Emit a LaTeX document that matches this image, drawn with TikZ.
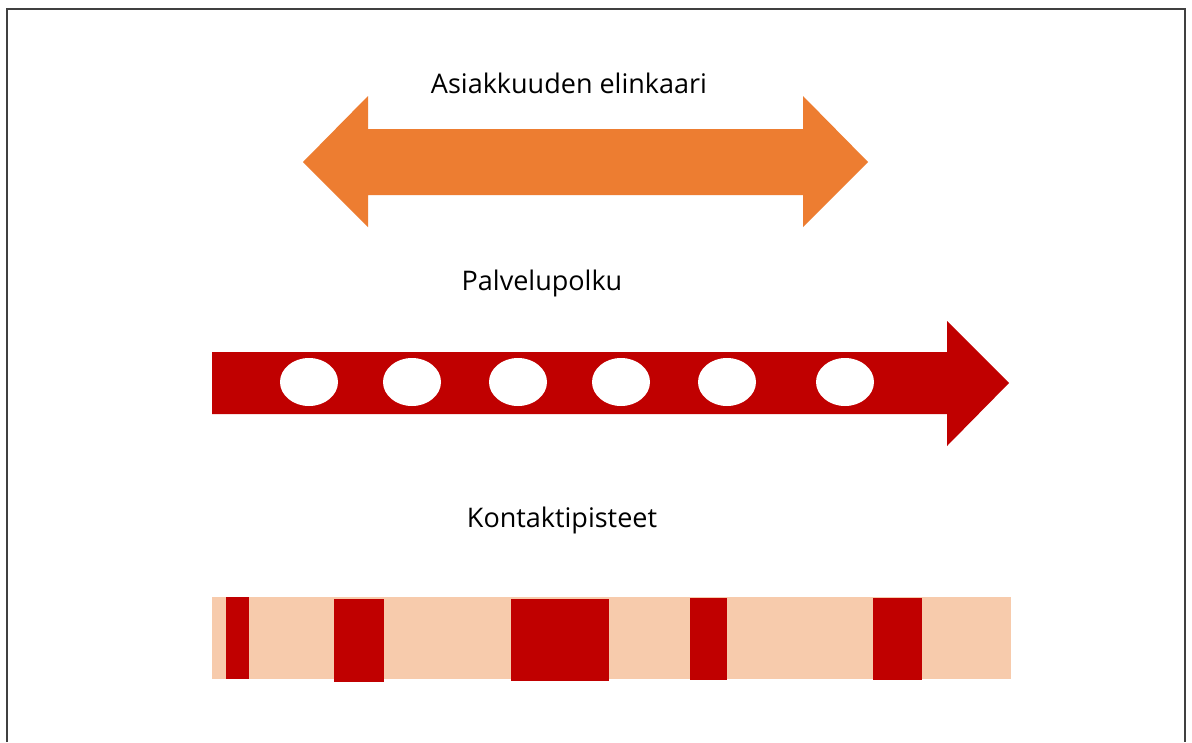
\documentclass[tikz,border=0pt]{standalone}
\usepackage{fontspec}
\setmainfont{Open Sans}
\usetikzlibrary{shapes.geometric}
\definecolor{orangeA}{HTML}{ED7D31}
\definecolor{redA}{HTML}{C00000}
\definecolor{peachA}{HTML}{F7CBAC}
\definecolor{frameA}{HTML}{404040}
\begin{document}
\begin{tikzpicture}[x=1pt,y=-1pt,
  lbl/.style={anchor=base,inner sep=0pt,font=\fontsize{27}{32}\selectfont},
  hole/.style={ellipse,fill=white,minimum width=58pt,minimum height=48pt,inner sep=0pt},
  touch/.style={fill=redA}]
\useasboundingbox (0,0) rectangle (1192,742);
\fill[white] (0,0) rectangle (1192,742);
% frame
\draw[frameA,line width=2.5pt] (7,742) -- (7,9) -- (1185,9) -- (1185,742);
% labels
\node[lbl] (t1) at (569,93) {Asiakkuuden elinkaari};
\node[lbl] (t2) at (542,290) {Palvelupolku};
\node[lbl] (t3) at (562,527) {Kontaktipisteet};
% orange double arrow
\fill[orangeA] (303,162) -- (368,96) -- (368,129) -- (803,129) -- (803,96) -- (868,162)
  -- (803,227) -- (803,195) -- (368,195) -- (368,227) -- cycle;
% red arrow
\fill[redA] (212,352) -- (947,352) -- (947,321) -- (1009,383) -- (947,446) -- (947,414) -- (212,414) -- cycle;
\foreach \x [count=\i] in {309,412,518,621,727,845}
  \node[hole] (h\i) at (\x,382) {};
% contact band
\fill[peachA] (212,597) rectangle (1011,679);
\fill[touch] (226,597) rectangle (249,679);
\fill[touch] (334,599) rectangle (384,682);
\fill[touch] (511,599) rectangle (609,681);
\fill[touch] (690,598) rectangle (727,680);
\fill[touch] (873,598) rectangle (922,680);
\end{tikzpicture}
\end{document}
